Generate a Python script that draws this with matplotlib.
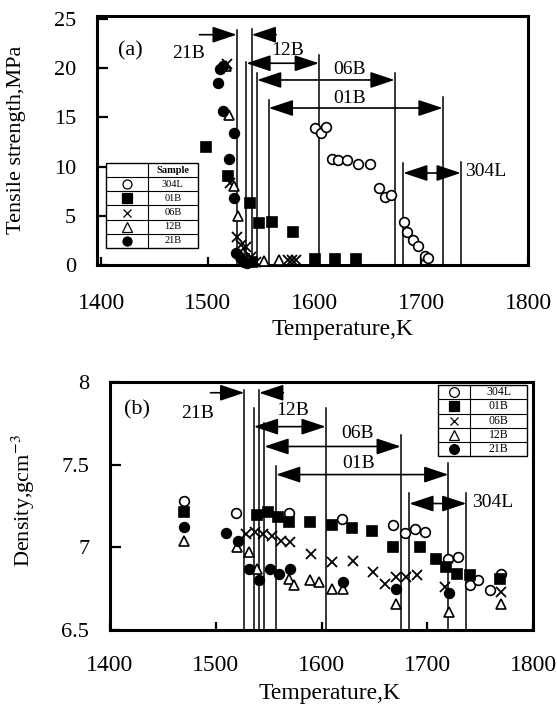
import matplotlib
matplotlib.use("Agg")
import matplotlib.pyplot as plt
from matplotlib.patches import Rectangle

plt.rcParams["font.family"] = ["Liberation Serif", "DejaVu Serif"]
plt.rcParams["mathtext.fontset"] = "stix"

samples = ["304L", "01B", "06B", "12B", "21B"]
sample_marker = ["o", "s", "x", "^", "o"]
sample_face = ["white", "black", "none", "white", "black"]

# temperature ranges marked with arrows (K), order 21B, 12B, 06B, 01B, 304L
range_names = ["21B", "12B", "06B", "01B", "304L"]
range_lo = [1527, 1536, 1546, 1557, 1683]
range_hi = [1541, 1604, 1675, 1720, 1737]

# (a) tensile strength, MPa
ts_304l_t = [1600, 1606, 1611, 1616, 1622, 1630, 1641, 1652, 1660, 1666, 1672, 1684, 1687, 1692, 1697, 1703, 1706]
ts_304l = [13.9, 13.4, 14.0, 10.8, 10.7, 10.7, 10.3, 10.3, 7.8, 6.9, 7.1, 4.4, 3.4, 2.5, 1.9, 0.9, 0.7]
ts_01b_t = [1498, 1519, 1534, 1539, 1541, 1548, 1560, 1580, 1600, 1619, 1639]
ts_01b = [12.0, 9.0, 0.6, 6.3, 0.3, 4.3, 4.4, 3.4, 0.6, 0.6, 0.6]
ts_06b_t = [1518, 1521, 1527, 1531, 1536, 1540, 1545, 1575, 1579, 1583]
ts_06b = [20.4, 8.3, 2.8, 2.0, 1.8, 0.8, 0.3, 0.5, 0.5, 0.5]
ts_12b_t = [1517, 1520, 1524, 1528, 1533, 1538, 1553, 1567]
ts_12b = [20.2, 15.2, 8.0, 5.0, 1.2, 0.5, 0.4, 0.5]
ts_21b_t = [1509, 1511, 1514, 1514, 1524, 1520, 1524, 1526, 1530, 1534, 1537]
ts_21b = [18.5, 19.9, 20.2, 15.6, 13.4, 10.8, 6.8, 1.2, 0.8, 0.3, 0.2]

# (b) density, g/cm3
d_304l_t = [1470, 1519, 1569, 1619, 1668, 1679, 1688, 1698, 1720, 1729, 1740, 1748, 1759, 1770]
d_304l = [7.28, 7.205, 7.205, 7.17, 7.135, 7.085, 7.11, 7.095, 6.93, 6.94, 6.77, 6.80, 6.74, 6.84]
d_01b_t = [1470, 1539, 1549, 1559, 1569, 1589, 1610, 1629, 1648, 1668, 1693, 1708, 1718, 1728, 1740, 1769]
d_01b = [7.215, 7.195, 7.215, 7.185, 7.155, 7.155, 7.135, 7.115, 7.10, 7.0, 7.0, 6.93, 6.88, 6.84, 6.83, 6.81]
d_06b_t = [1529, 1537, 1545, 1553, 1562, 1570, 1590, 1610, 1630, 1649, 1660, 1670, 1680, 1690, 1717, 1770]
d_06b = [7.08, 7.09, 7.08, 7.07, 7.04, 7.03, 6.96, 6.91, 6.92, 6.85, 6.78, 6.82, 6.82, 6.83, 6.76, 6.73]
d_12b_t = [1470, 1520, 1531, 1539, 1569, 1574, 1589, 1598, 1610, 1620, 1670, 1721, 1770]
d_12b = [7.04, 7.0, 6.97, 6.87, 6.81, 6.77, 6.80, 6.79, 6.75, 6.75, 6.66, 6.61, 6.66]
d_21b_t = [1470, 1510, 1521, 1531, 1541, 1551, 1560, 1570, 1620, 1670, 1721]
d_21b = [7.125, 7.085, 7.04, 6.87, 6.80, 6.87, 6.84, 6.87, 6.79, 6.745, 6.725]

W, H = 557, 708
fig = plt.figure(figsize=(W / 100, H / 100), dpi=100)
ax1 = fig.add_axes([97 / W, 1 - 265 / H, 431 / W, 249 / H])
ax2 = fig.add_axes([110 / W, 1 - 630 / H, 423 / W, 248 / H])


def draw_points(ax, series, ms):
    for (t, v), m, fc in zip(series, sample_marker, sample_face):
        if m == "x":
            ax.plot(t, v, ls="none", marker=m, ms=ms, mew=1.3, color="k", clip_on=False, zorder=4)
        else:
            ax.plot(t, v, ls="none", marker=m, ms=ms, mfc=fc, mec="k", mew=1.2, clip_on=False, zorder=4)


def arrow(ax, x0, x1, y, style="-|>"):
    ax.annotate("", xy=(x1, y), xytext=(x0, y),
                arrowprops=dict(arrowstyle=style + ",head_length=0.6,head_width=0.2",
                                mutation_scale=25, lw=1.2, color="k", shrinkA=0, shrinkB=0))


def draw_ranges(ax, ybot, lo_top, hi_top, arrow_y, label_xy, out_from, fs):
    for i, name in enumerate(range_names):
        lo, hi = range_lo[i], range_hi[i]
        ax.plot([lo, lo], [ybot, lo_top[i]], color="k", lw=1.1, zorder=3)
        ax.plot([hi, hi], [ybot, hi_top[i]], color="k", lw=1.1, zorder=3)
        if name == "21B":
            arrow(ax, out_from[0], lo, arrow_y[i])
            arrow(ax, out_from[1], hi, arrow_y[i])
        else:
            arrow(ax, lo, hi, arrow_y[i], "<|-|>")
        ha = "left" if name == "304L" else "center"
        ax.text(label_xy[i][0], label_xy[i][1], name, fontsize=fs, ha=ha, va="center")


def sample_table(ax, x0, xdiv, x1, ytop, ybot, header, fs, ms):
    tr = ax.transAxes
    n = len(samples) + (1 if header else 0)
    h = (ytop - ybot) / n
    ax.add_patch(Rectangle((x0, ybot), x1 - x0, ytop - ybot, transform=tr, fc="white",
                           ec="k", lw=1.0, zorder=5))
    for i in range(1, n):
        y = ytop - i * h
        ax.plot([x0, x1], [y, y], color="k", lw=0.8, transform=tr, zorder=6)
    ax.plot([xdiv, xdiv], [ybot, ytop], color="k", lw=0.8, transform=tr, zorder=6)
    row = 0
    if header:
        ax.text((xdiv + x1) / 2, ytop - h / 2, header, fontsize=fs, fontweight="bold",
                ha="center", va="center", transform=tr, zorder=7)
        row = 1
    for name, m, fc in zip(samples, sample_marker, sample_face):
        yc = ytop - (row + 0.5) * h
        if m == "x":
            ax.plot((x0 + xdiv) / 2, yc, marker=m, ms=ms * 0.8, mew=0.9, color="k", transform=tr, zorder=7)
        else:
            ax.plot((x0 + xdiv) / 2, yc, marker=m, ms=ms, mfc=fc, mec="k", mew=0.9, transform=tr, zorder=7)
        ax.text((xdiv + x1) / 2, yc, name, fontsize=fs, ha="center", va="center", transform=tr, zorder=7)
        row += 1


# ---- (a) tensile strength ----
draw_points(ax1, [(ts_304l_t, ts_304l), (ts_01b_t, ts_01b), (ts_06b_t, ts_06b),
                  (ts_12b_t, ts_12b), (ts_21b_t, ts_21b)], 7)
draw_ranges(ax1, 0,
            lo_top=[23.9, 20.6, 19.5, 16.8, 10.4],
            hi_top=[24.0, 21.3, 19.5, 17.1, 10.5],
            arrow_y=[23.4, 20.5, 18.8, 15.95, 9.35],
            label_xy=[(1482, 21.5), (1575, 21.75), (1633, 19.9), (1633, 16.9), (1741, 9.45)],
            out_from=(1492, 1564), fs=14)
ax1.text(1427, 21.8, "(a)", fontsize=16, ha="center", va="center")
sample_table(ax1, 0.021, 0.118, 0.234, 0.41, 0.068, "Sample", 7.5, 6.5)
ax1.set_xlim(1396, 1800)
ax1.set_ylim(0, 25.3)
ax1.set_xticks([1400, 1500, 1600, 1700, 1800])
ax1.set_yticks([0, 5, 10, 15, 20, 25])
ax1.tick_params(axis="x", direction="in", length=6, width=1.6, labelsize=17, pad=20)
ax1.tick_params(axis="y", direction="in", length=8, width=1.6, labelsize=16, pad=15)
fig.text(17 / W, 1 - 140 / H, "Tensile strength,MPa", rotation=90, fontsize=16, ha="center", va="center")
fig.text(343 / W, 1 - 330 / H, "Temperature,K", fontsize=17, ha="center", va="center")

# ---- (b) density ----
draw_points(ax2, [(d_304l_t, d_304l), (d_01b_t, d_01b), (d_06b_t, d_06b),
                  (d_12b_t, d_12b), (d_21b_t, d_21b)], 7)
draw_ranges(ax2, 6.5,
            lo_top=[7.95, 7.84, 7.75, 7.49, 7.33],
            hi_top=[7.95, 7.84, 7.68, 7.51, 7.33],
            arrow_y=[7.935, 7.73, 7.61, 7.44, 7.265],
            label_xy=[(1483, 7.81), (1573, 7.83), (1634, 7.69), (1635, 7.51), (1742, 7.27)],
            out_from=(1495, 1564), fs=14)
ax2.text(1426, 7.83, "(b)", fontsize=16, ha="center", va="center")
sample_table(ax2, 0.775, 0.851, 0.986, 0.988, 0.70, None, 8.5, 7)
ax2.set_xlim(1400, 1800)
ax2.set_ylim(6.5, 8)
ax2.set_xticks([1400, 1500, 1600, 1700, 1800])
ax2.set_yticks([6.5, 7, 7.5, 8])
ax2.set_yticklabels(["6.5", "7", "7.5", "8"])
ax2.tick_params(axis="x", direction="in", length=6, width=1.6, labelsize=17, pad=18)
ax2.tick_params(axis="y", direction="in", length=8, width=1.6, labelsize=16, pad=15)
fig.text(23 / W, 1 - 501 / H, "Density,gcm$^{-3}$", rotation=90, fontsize=16, ha="center", va="center")
fig.text(330 / W, 1 - 694 / H, "Temperature,K", fontsize=17, ha="center", va="center")

for ax in (ax1, ax2):
    for s in ax.spines.values():
        s.set_linewidth(2.2)

fig.savefig("out.png", dpi=100)
